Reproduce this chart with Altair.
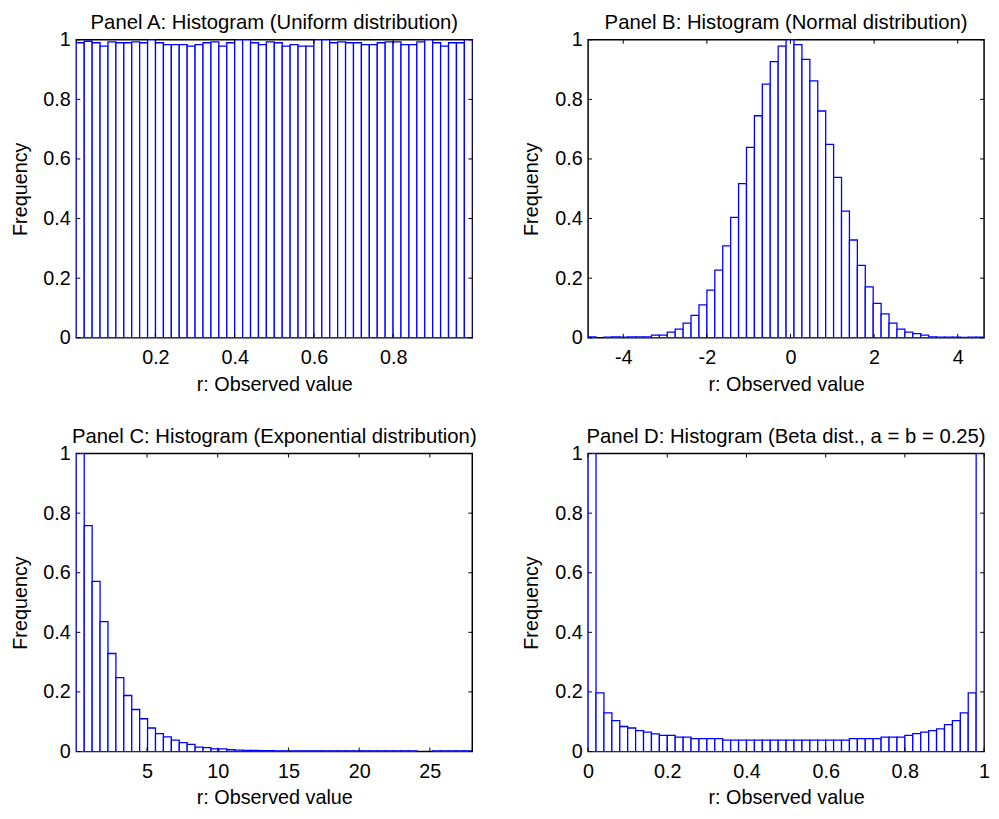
import altair as alt
import numpy as np
import pandas as pd

# ---------------- data (normalised bin heights) -------
uniform_freq = [0.99, 0.995, 0.99, 0.979, 0.993, 0.99, 0.99, 0.993, 0.99, 1.0,
                0.99, 0.984, 0.984, 0.984, 0.979, 0.984, 0.99, 0.993, 0.979, 0.99,
                1.0, 1.0, 0.99, 0.984, 0.993, 0.99, 0.979, 0.984, 0.979, 0.979,
                1.0, 1.0, 0.99, 0.993, 0.99, 0.99, 0.984, 0.984, 0.99, 0.993,
                0.993, 0.984, 0.984, 0.993, 1.0, 0.99, 0.979, 0.99, 0.99, 1.0]

normal_freq = [0.003, 0.0, 0.002, 0.003, 0.002, 0.003, 0.003, 0.003, 0.009, 0.009,
               0.019, 0.029, 0.049, 0.075, 0.11, 0.16, 0.227, 0.308, 0.404, 0.517,
               0.639, 0.745, 0.851, 0.927, 0.979, 1.0, 0.984, 0.934, 0.862, 0.761,
               0.649, 0.538, 0.425, 0.328, 0.243, 0.171, 0.115, 0.080, 0.049, 0.029,
               0.019, 0.014, 0.009, 0.003, 0.002, 0.002, 0.002, 0.001, 0.002, 0.002]

expo_freq = [1.0, 0.758, 0.571, 0.436, 0.329, 0.248, 0.188, 0.141, 0.110, 0.079,
             0.060, 0.049, 0.038, 0.030, 0.024, 0.015, 0.013, 0.009, 0.009, 0.006,
             0.005, 0.004, 0.004, 0.003, 0.003, 0.002, 0.002, 0.002, 0.002, 0.002,
             0.002, 0.002, 0.002, 0.002, 0.002, 0.002, 0.002, 0.002, 0.002, 0.002,
             0.002, 0.002, 0.002, 0.0, 0.0, 0.002, 0.002, 0.002, 0.002, 0.002]

beta_freq = [1.0, 0.197, 0.130, 0.104, 0.084, 0.079, 0.070, 0.065, 0.059, 0.054,
             0.054, 0.048, 0.048, 0.043, 0.043, 0.043, 0.043, 0.038, 0.038, 0.038,
             0.038, 0.038, 0.038, 0.038, 0.038, 0.038, 0.038, 0.038, 0.038, 0.038,
             0.038, 0.038, 0.038, 0.043, 0.043, 0.043, 0.043, 0.048, 0.048, 0.048,
             0.054, 0.060, 0.065, 0.070, 0.076, 0.090, 0.104, 0.130, 0.197, 1.0]

titles = ["Panel A: Histogram (Uniform distribution)",
          "Panel B: Histogram (Normal distribution)",
          "Panel C: Histogram (Exponential distribution)",
          "Panel D: Histogram (Beta dist., a = b = 0.25)"]
ranges = [(0.0005, 0.9995), (-4.84, 4.63), (0.001, 28.0), (0.0, 1.0)]
x_ticks = [[0.2, 0.4, 0.6, 0.8],
           [-4, -2, 0, 2, 4],
           [5, 10, 15, 20, 25],
           [0, 0.2, 0.4, 0.6, 0.8, 1]]
y_ticks = [0, 0.2, 0.4, 0.6, 0.8, 1]
freqs = [uniform_freq, normal_freq, expo_freq, beta_freq]

W, H = 400, 301
TL = 4  # inward tick length
FONT = "Liberation Sans"
FS = 20
BLUE = "#0000FF"
XT = "r: Observed value"
YT = "Frequency"
label_expr = "datum.value < 0 ? '-' + format(-datum.value, '~g') : format(datum.value, '~g')"


def panel(title, rng, freq, xt):
    lo, hi = rng
    edges = np.linspace(lo, hi, len(freq) + 1)
    df = pd.DataFrame({"x0": edges[:-1], "x1": edges[1:], "f": freq, "base": 0.0})
    df = df[df["f"] > 0]
    xscale = alt.Scale(domain=[lo, hi], nice=False, zero=False)
    yscale = alt.Scale(domain=[0, 1], nice=False)
    xaxis = alt.Axis(values=xt, labelExpr=label_expr, labelPadding=10, titlePadding=7)
    yaxis = alt.Axis(values=y_ticks, format="~g", labelPadding=6, titlePadding=13)
    bars = alt.Chart(df).mark_rect(
        fill="white", stroke=BLUE, strokeWidth=1.3, clip=True
    ).encode(
        x=alt.X("x0:Q", scale=xscale, axis=xaxis, title=XT),
        x2="x1:Q",
        y=alt.Y("f:Q", scale=yscale, axis=yaxis, title=YT),
        y2="base:Q",
    )
    xt_df = pd.DataFrame({"v": xt})
    yt_df = pd.DataFrame({"v": y_ticks})
    xb = alt.Chart(xt_df).mark_rule(color="black", strokeWidth=1).encode(
        x=alt.X("v:Q", axis=xaxis, title=XT), y=alt.value(H), y2=alt.value(H - TL))
    xtp = alt.Chart(xt_df).mark_rule(color="black", strokeWidth=1).encode(
        x=alt.X("v:Q", axis=xaxis, title=XT), y=alt.value(0), y2=alt.value(TL))
    yl = alt.Chart(yt_df).mark_rule(color="black", strokeWidth=1).encode(
        y=alt.Y("v:Q", axis=yaxis, title=YT), x=alt.value(0), x2=alt.value(TL))
    yr = alt.Chart(yt_df).mark_rule(color="black", strokeWidth=1).encode(
        y=alt.Y("v:Q", axis=yaxis, title=YT), x=alt.value(W), x2=alt.value(W - TL))
    return alt.layer(bars, xb, xtp, yl, yr).properties(
        width=W, height=H,
        title=alt.TitleParams(title, font=FONT, fontSize=20.5, fontWeight="normal",
                              color="black", anchor="middle", frame="group",
                              offset=-4),
    )


charts = [panel(t, r, f, x) for t, r, f, x in zip(titles, ranges, freqs, x_ticks)]

chart = alt.concat(*charts, columns=2, spacing=117).properties(
    bounds="flush",
    padding={"left": 1, "top": 0, "right": 0, "bottom": 0},
    background="white",
).configure_view(
    stroke="black", strokeWidth=1.5
).configure_axis(
    labelFont=FONT, labelFontSize=FS, labelColor="black",
    titleFont=FONT, titleFontSize=FS, titleFontWeight="normal", titleColor="black",
    ticks=False, domain=False, grid=False, labelFlush=False, labelOverlap=False,
    labelBound=False
)

chart.save("out.html", embed_options={"renderer": "svg", "actions": False})
